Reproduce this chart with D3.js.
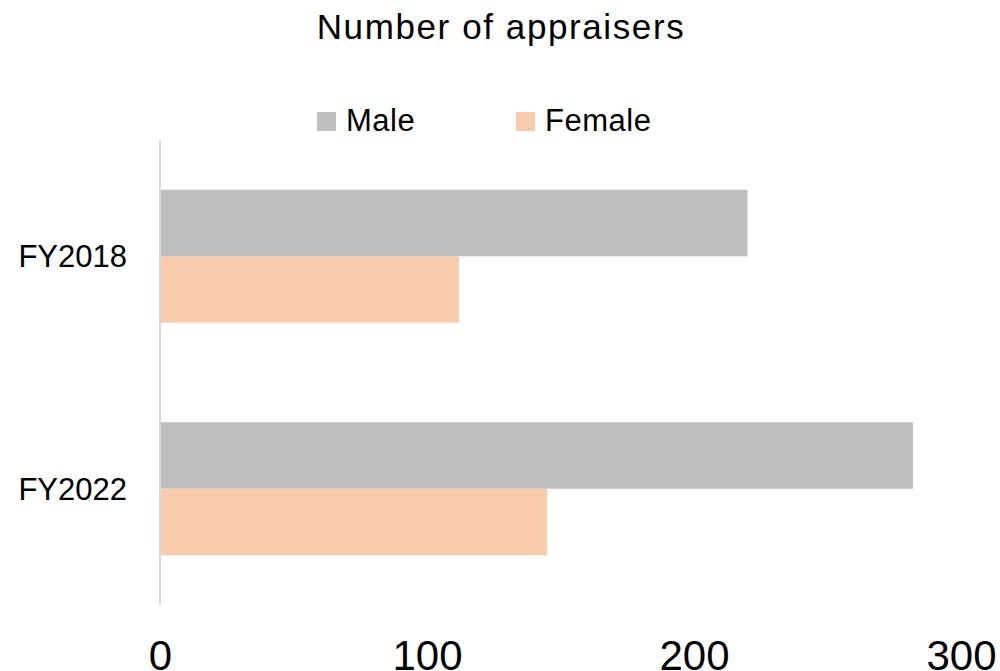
<!DOCTYPE html>
<html>
<head>
<meta charset="utf-8">
<script src="https://cdn.jsdelivr.net/npm/d3@7"></script>
<style>
  body { margin: 0; background: #fff; }
  text { font-family: "Liberation Sans", Arial, sans-serif; fill: #000; }
</style>
</head>
<body>
<svg id="chart" width="1000" height="671"></svg>
<script>
// 数据
const categories = ["FY2018", "FY2022"];
const seriesNames = ["Male", "Female"];
const maleValues = [220, 282];
const femaleValues = [112, 145];
const tickValues = [0, 100, 200, 300];
const colors = ["#bfbfbf", "#f8cbad"];

const svg = d3.select("#chart");

// 比例尺
const x = d3.scaleLinear().domain([0, 300]).range([160, 961]);
const y = d3.scaleBand().domain(categories).range([140, 605])
    .paddingInner(0.428).paddingOuter(0.214);
const ySub = d3.scaleBand().domain(seriesNames).range([0, y.bandwidth()]);

const rows = categories.map((c, i) => ({ cat: c, values: [maleValues[i], femaleValues[i]] }));

// 标题
svg.append("text")
    .attr("x", 501).attr("y", 39)
    .attr("text-anchor", "middle")
    .attr("font-size", 35)
    .attr("letter-spacing", 1.6)
    .text("Number of appraisers");

// 图例
const legendX = [317, 516];
const legend = svg.append("g");
seriesNames.forEach((s, i) => {
    legend.append("rect")
        .attr("x", legendX[i]).attr("y", 112)
        .attr("width", 19).attr("height", 19)
        .attr("fill", colors[i]);
    legend.append("text")
        .attr("x", legendX[i] + 29).attr("y", 131)
        .attr("font-size", 31)
        .attr("letter-spacing", 0.5)
        .text(s);
});

// 柱子
const groups = svg.append("g").selectAll("g")
    .data(rows).enter().append("g")
    .attr("transform", d => `translate(0,${y(d.cat)})`);

groups.selectAll("rect")
    .data(d => d.values.map((v, i) => ({ name: seriesNames[i], value: v, i })))
    .enter().append("rect")
    .attr("x", x(0))
    .attr("y", d => ySub(d.name))
    .attr("width", d => x(d.value) - x(0))
    .attr("height", ySub.bandwidth())
    .attr("fill", d => colors[d.i]);

// y 轴
const yAxis = svg.append("g")
    .attr("transform", `translate(${x(0)},0)`)
    .call(d3.axisLeft(y).tickSize(0).tickPadding(33));
yAxis.select(".domain").remove();
yAxis.selectAll("text")
    .attr("font-size", 31)
    .attr("font-family", "Liberation Sans, Arial, sans-serif")
    .attr("fill", "#000")
    .attr("dy", "0.36em");

svg.append("line")
    .attr("x1", x(0)).attr("x2", x(0))
    .attr("y1", 140).attr("y2", 605)
    .attr("stroke", "#d9d9d9").attr("stroke-width", 2);

// x 轴
const xAxis = svg.append("g")
    .attr("transform", "translate(0,640)")
    .call(d3.axisBottom(x).tickValues(tickValues).tickSize(0).tickPadding(0));
xAxis.select(".domain").remove();
xAxis.selectAll("text")
    .attr("font-size", 42)
    .attr("font-family", "'Liberation Sans Narrow', 'DejaVu Sans Condensed', sans-serif")
    .attr("fill", "#000")
    .attr("dy", "0.72em");
</script>
</body>
</html>
